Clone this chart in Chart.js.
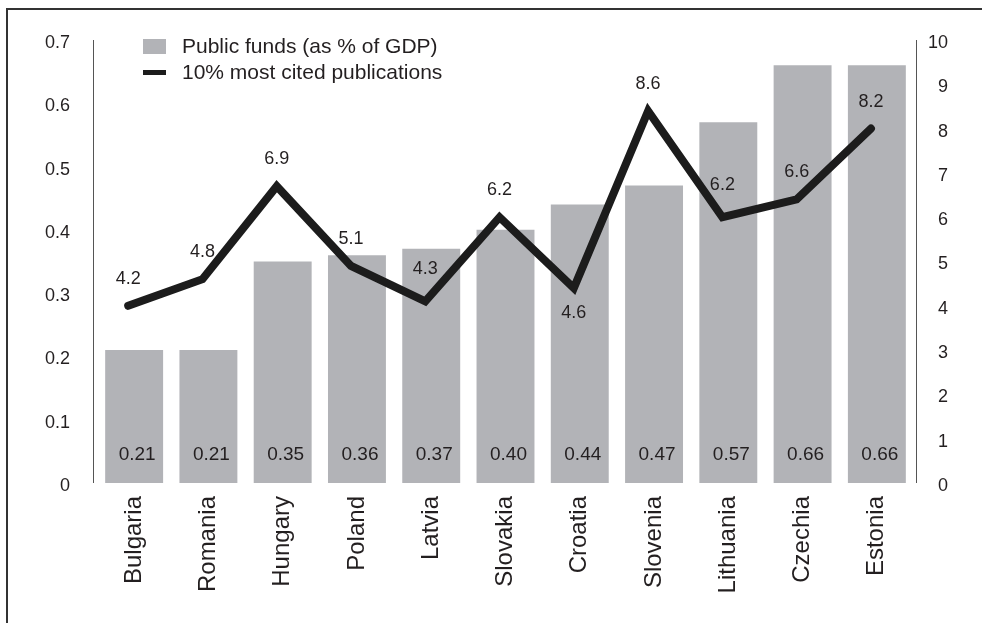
<!DOCTYPE html>
<html>
<head>
<meta charset="utf-8">
<script src="https://cdn.jsdelivr.net/npm/chart.js@4.4.1/dist/chart.umd.min.js"></script>
<style>
  html, body { margin: 0; padding: 0; background: #fff; }
  #wrap { width: 982px; height: 623px; }
</style>
</head>
<body>
<div id="wrap"><canvas id="chart" width="982" height="623"></canvas></div>
<script>
// データ
var countries = ["Bulgaria", "Romania", "Hungary", "Poland", "Latvia", "Slovakia", "Croatia", "Slovenia", "Lithuania", "Czechia", "Estonia"];
var publicFunds = [0.21, 0.21, 0.35, 0.36, 0.37, 0.40, 0.44, 0.47, 0.57, 0.66, 0.66];
var mostCited = [4.2, 4.8, 6.9, 5.1, 4.3, 6.2, 4.6, 8.6, 6.2, 6.6, 8.2];
var leftTicks = [0, 0.1, 0.2, 0.3, 0.4, 0.5, 0.6, 0.7];
var rightTicks = [0, 1, 2, 3, 4, 5, 6, 7, 8, 9, 10];
var seriesNames = ["Public funds (as % of GDP)", "10% most cited publications"];

var FONT = "'Liberation Sans', Arial, sans-serif";
var TEXT = "#231f20";
var BAR = "#b2b3b7";
var LINE = "#1c1c1c";

// 折れ線ラベルの位置（上/下）
function lineLabelShift(name) {
  if (name === "Croatia") return 25;
  if (name === "Latvia" || name === "Lithuania") return -32;
  return -27;
}

// 枠線・軸線・凡例・ラベル
var decor = {
  id: 'decor',
  afterDatasetsDraw: function (chart) {
    var ctx = chart.ctx;
    var area = chart.chartArea;
    ctx.save();
    // 外枠（上と左だけ）
    ctx.strokeStyle = "#333";
    ctx.lineWidth = 2;
    ctx.beginPath();
    ctx.moveTo(7, 623);
    ctx.lineTo(7, 9);
    ctx.lineTo(982, 9);
    ctx.stroke();
    // 縦軸線
    ctx.strokeStyle = "#555";
    ctx.lineWidth = 1;
    ctx.beginPath();
    ctx.moveTo(area.left - 3.5, area.top);
    ctx.lineTo(area.left - 3.5, area.bottom);
    ctx.moveTo(area.right + 2.5, area.top);
    ctx.lineTo(area.right + 2.5, area.bottom);
    ctx.stroke();

    // 棒の値
    ctx.fillStyle = TEXT;
    ctx.font = "19px " + FONT;
    ctx.textAlign = "center";
    ctx.textBaseline = "middle";
    var y0 = chart.scales.y.getPixelForValue(0);
    chart.getDatasetMeta(0).data.forEach(function (bar, i) {
      ctx.fillText(publicFunds[i].toFixed(2), bar.x + 3, y0 - 28);
    });
    // 折れ線の値
    ctx.font = "18px " + FONT;
    chart.getDatasetMeta(1).data.forEach(function (pt, i) {
      ctx.fillText(mostCited[i].toFixed(1), pt.x, pt.y + lineLabelShift(countries[i]));
    });

    // 凡例
    ctx.fillStyle = BAR;
    ctx.fillRect(143, 39, 23, 15);
    ctx.fillStyle = LINE;
    ctx.fillRect(143, 70, 23, 5);
    ctx.fillStyle = TEXT;
    ctx.font = "21px " + FONT;
    ctx.textAlign = "left";
    ctx.fillText(seriesNames[0], 182, 47);
    ctx.fillText(seriesNames[1], 182, 73);
    ctx.restore();
  }
};

var ctx1 = document.getElementById("chart");
var myChart = new Chart(ctx1, {
  type: 'bar',
  data: {
    labels: countries,
    datasets: [
      {
        type: 'bar',
        label: seriesNames[0],
        data: publicFunds,
        backgroundColor: BAR,
        barPercentage: 0.78,
        categoryPercentage: 1.0,
        grouped: false,
        xAxisID: 'x',
        yAxisID: 'y',
        order: 1
      },
      {
        type: 'line',
        label: seriesNames[1],
        data: mostCited.map(function (v, i) { return { x: i, y: v }; }),
        borderColor: LINE,
        borderWidth: 8,
        borderCapStyle: 'round',
        borderJoinStyle: 'miter',
        pointRadius: 0,
        tension: 0,
        fill: false,
        xAxisID: 'x2',
        yAxisID: 'yLine',
        order: 0
      }
    ]
  },
  options: {
    responsive: false,
    animation: false,
    devicePixelRatio: 1,
    layout: { padding: { top: 40, left: 0, right: 34, bottom: 0 } },
    plugins: {
      legend: { display: false },
      tooltip: { enabled: false }
    },
    scales: {
      x: {
        grid: { display: false, drawTicks: false },
        border: { display: false },
        ticks: {
          color: TEXT,
          font: { family: FONT, size: 24 },
          maxRotation: 90,
          minRotation: 90,
          autoSkip: false,
          padding: 13
        },
        afterFit: function (s) { s.height = 140; }
      },
      x2: {
        type: 'linear',
        display: false,
        offset: false,
        min: -0.42,
        max: 10.58
      },
      y: {
        position: 'left',
        min: 0,
        max: 0.7,
        grid: { display: false, drawTicks: false },
        border: { display: false },
        afterBuildTicks: function (s) { s.ticks = leftTicks.map(function (v) { return { value: v }; }); },
        ticks: {
          color: TEXT,
          font: { family: FONT, size: 18 },
          padding: 27,
          labelOffset: 3,
          callback: function (v) { return v === 0 ? "0" : v.toFixed(1); }
        },
        afterFit: function (s) { s.width = 97; }
      },
      y1: {
        position: 'right',
        min: 0,
        max: 10,
        grid: { display: false, drawTicks: false },
        border: { display: false },
        afterBuildTicks: function (s) { s.ticks = rightTicks.map(function (v) { return { value: v }; }); },
        ticks: {
          color: TEXT,
          font: { family: FONT, size: 18 },
          padding: 14,
          labelOffset: 3,
          crossAlign: 'far'
        },
        afterFit: function (s) { s.width = 34; }
      },
      yLine: {
        position: 'right',
        display: false,
        min: 0.2,
        max: 10.2
      }
    }
  },
  plugins: [decor]
});
</script>
</body>
</html>
